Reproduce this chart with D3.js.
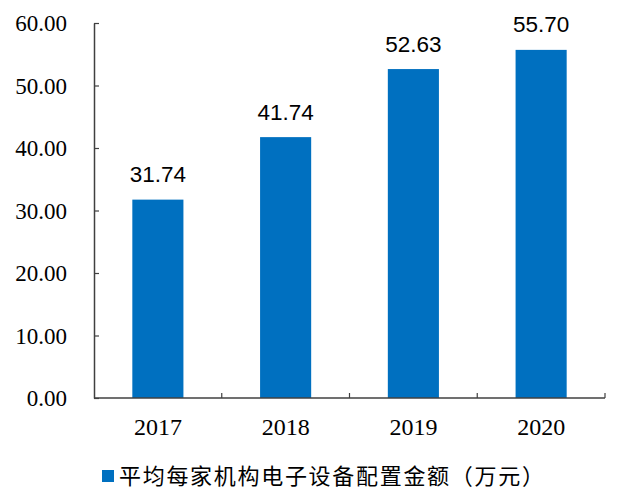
<!DOCTYPE html>
<html>
<head>
<meta charset="utf-8">
<script src="https://cdn.jsdelivr.net/npm/d3@7"></script>
<style>
  html, body { margin: 0; padding: 0; background: #fff; }
  svg { display: block; }
  .serif { font-family: 'Liberation Serif', 'Times New Roman', serif; }
</style>
</head>
<body>
<svg id="chart" width="627" height="493"></svg>
<script>
const categories = ["2017", "2018", "2019", "2020"];
const values = [31.74, 41.74, 52.63, 55.70];
const yTicks = [0, 10, 20, 30, 40, 50, 60];
const seriesName = "平均每家机构电子设备配置金额（万元）";

(function () {
const svg = d3.select("#chart");
const mLeft = 94, mRight = 605, mTop = 23, mBottom = 398;
const barColor = "#0070C0";
const axisColor = "#404040";

const x = d3.scaleBand().domain(categories).range([mLeft, mRight]).paddingInner(0.6).paddingOuter(0.3);
const y = d3.scaleLinear().domain([0, 60]).range([mBottom, mTop]);

// bars
svg.append("g").selectAll("rect").data(values).join("rect")
  .attr("x", (d, i) => x(categories[i]))
  .attr("y", d => y(d))
  .attr("width", x.bandwidth())
  .attr("height", d => y(0) - y(d))
  .attr("fill", barColor);

// data labels
svg.append("g").selectAll("text").data(values).join("text")
  .attr("x", (d, i) => x(categories[i]) + x.bandwidth() / 2)
  .attr("y", d => y(d) - 17.5)
  .attr("text-anchor", "middle")
  .style("font-family", "'Liberation Sans', Arial, sans-serif")
  .style("font-size", "22.5px")
  .attr("fill", "#000")
  .text(d => d.toFixed(2));

// y axis (line + inward ticks)
const yAxis = d3.axisLeft(y).tickValues(yTicks).tickSize(-5).tickSizeOuter(0).tickFormat(() => "");
const gy = svg.append("g").attr("transform", `translate(${mLeft},0)`).call(yAxis);
gy.select(".domain").attr("stroke", axisColor).attr("stroke-width", 1.5);
gy.selectAll(".tick line").attr("stroke", axisColor).attr("stroke-width", 1.2);
gy.selectAll(".tick text").remove();
// y tick labels
svg.append("g").selectAll("text").data(yTicks).join("text")
  .attr("class", "serif")
  .attr("x", 67)
  .attr("y", d => y(d) + 8)
  .attr("text-anchor", "end")
  .style("font-size", "23px")
  .attr("fill", "#000")
  .text(d => d.toFixed(2));

// x axis with boundary ticks pointing up
const xEdge = d3.scaleLinear().domain([0, categories.length]).range([mLeft, mRight]);
const gx = svg.append("g");
gx.append("line")
  .attr("x1", mLeft).attr("x2", mRight).attr("y1", mBottom).attr("y2", mBottom)
  .attr("stroke", axisColor).attr("stroke-width", 1.5);
gx.selectAll("line.tk").data(d3.range(1, categories.length + 1)).join("line")
  .attr("class", "tk")
  .attr("x1", d => xEdge(d)).attr("x2", d => xEdge(d))
  .attr("y1", mBottom).attr("y2", mBottom - 5)
  .attr("stroke", axisColor).attr("stroke-width", 1.2);
gx.selectAll("text").data(categories).join("text")
  .attr("class", "serif")
  .attr("x", d => x(d) + x.bandwidth() / 2)
  .attr("y", 435)
  .attr("text-anchor", "middle")
  .style("font-size", "24px")
  .attr("fill", "#000")
  .text(d => d);

// legend
const lg = svg.append("g");
lg.append("rect").attr("x", 102).attr("y", 470).attr("width", 12).attr("height", 12).attr("fill", barColor);
lg.append("text")
  .attr("x", 119).attr("y", 484)
  .style("font-family", "'Noto Sans CJK SC', sans-serif")
  .style("font-size", "22px")
  .style("letter-spacing", "1.7px")
  .attr("fill", "#000")
  .text(seriesName);
})();
</script>
</body>
</html>
